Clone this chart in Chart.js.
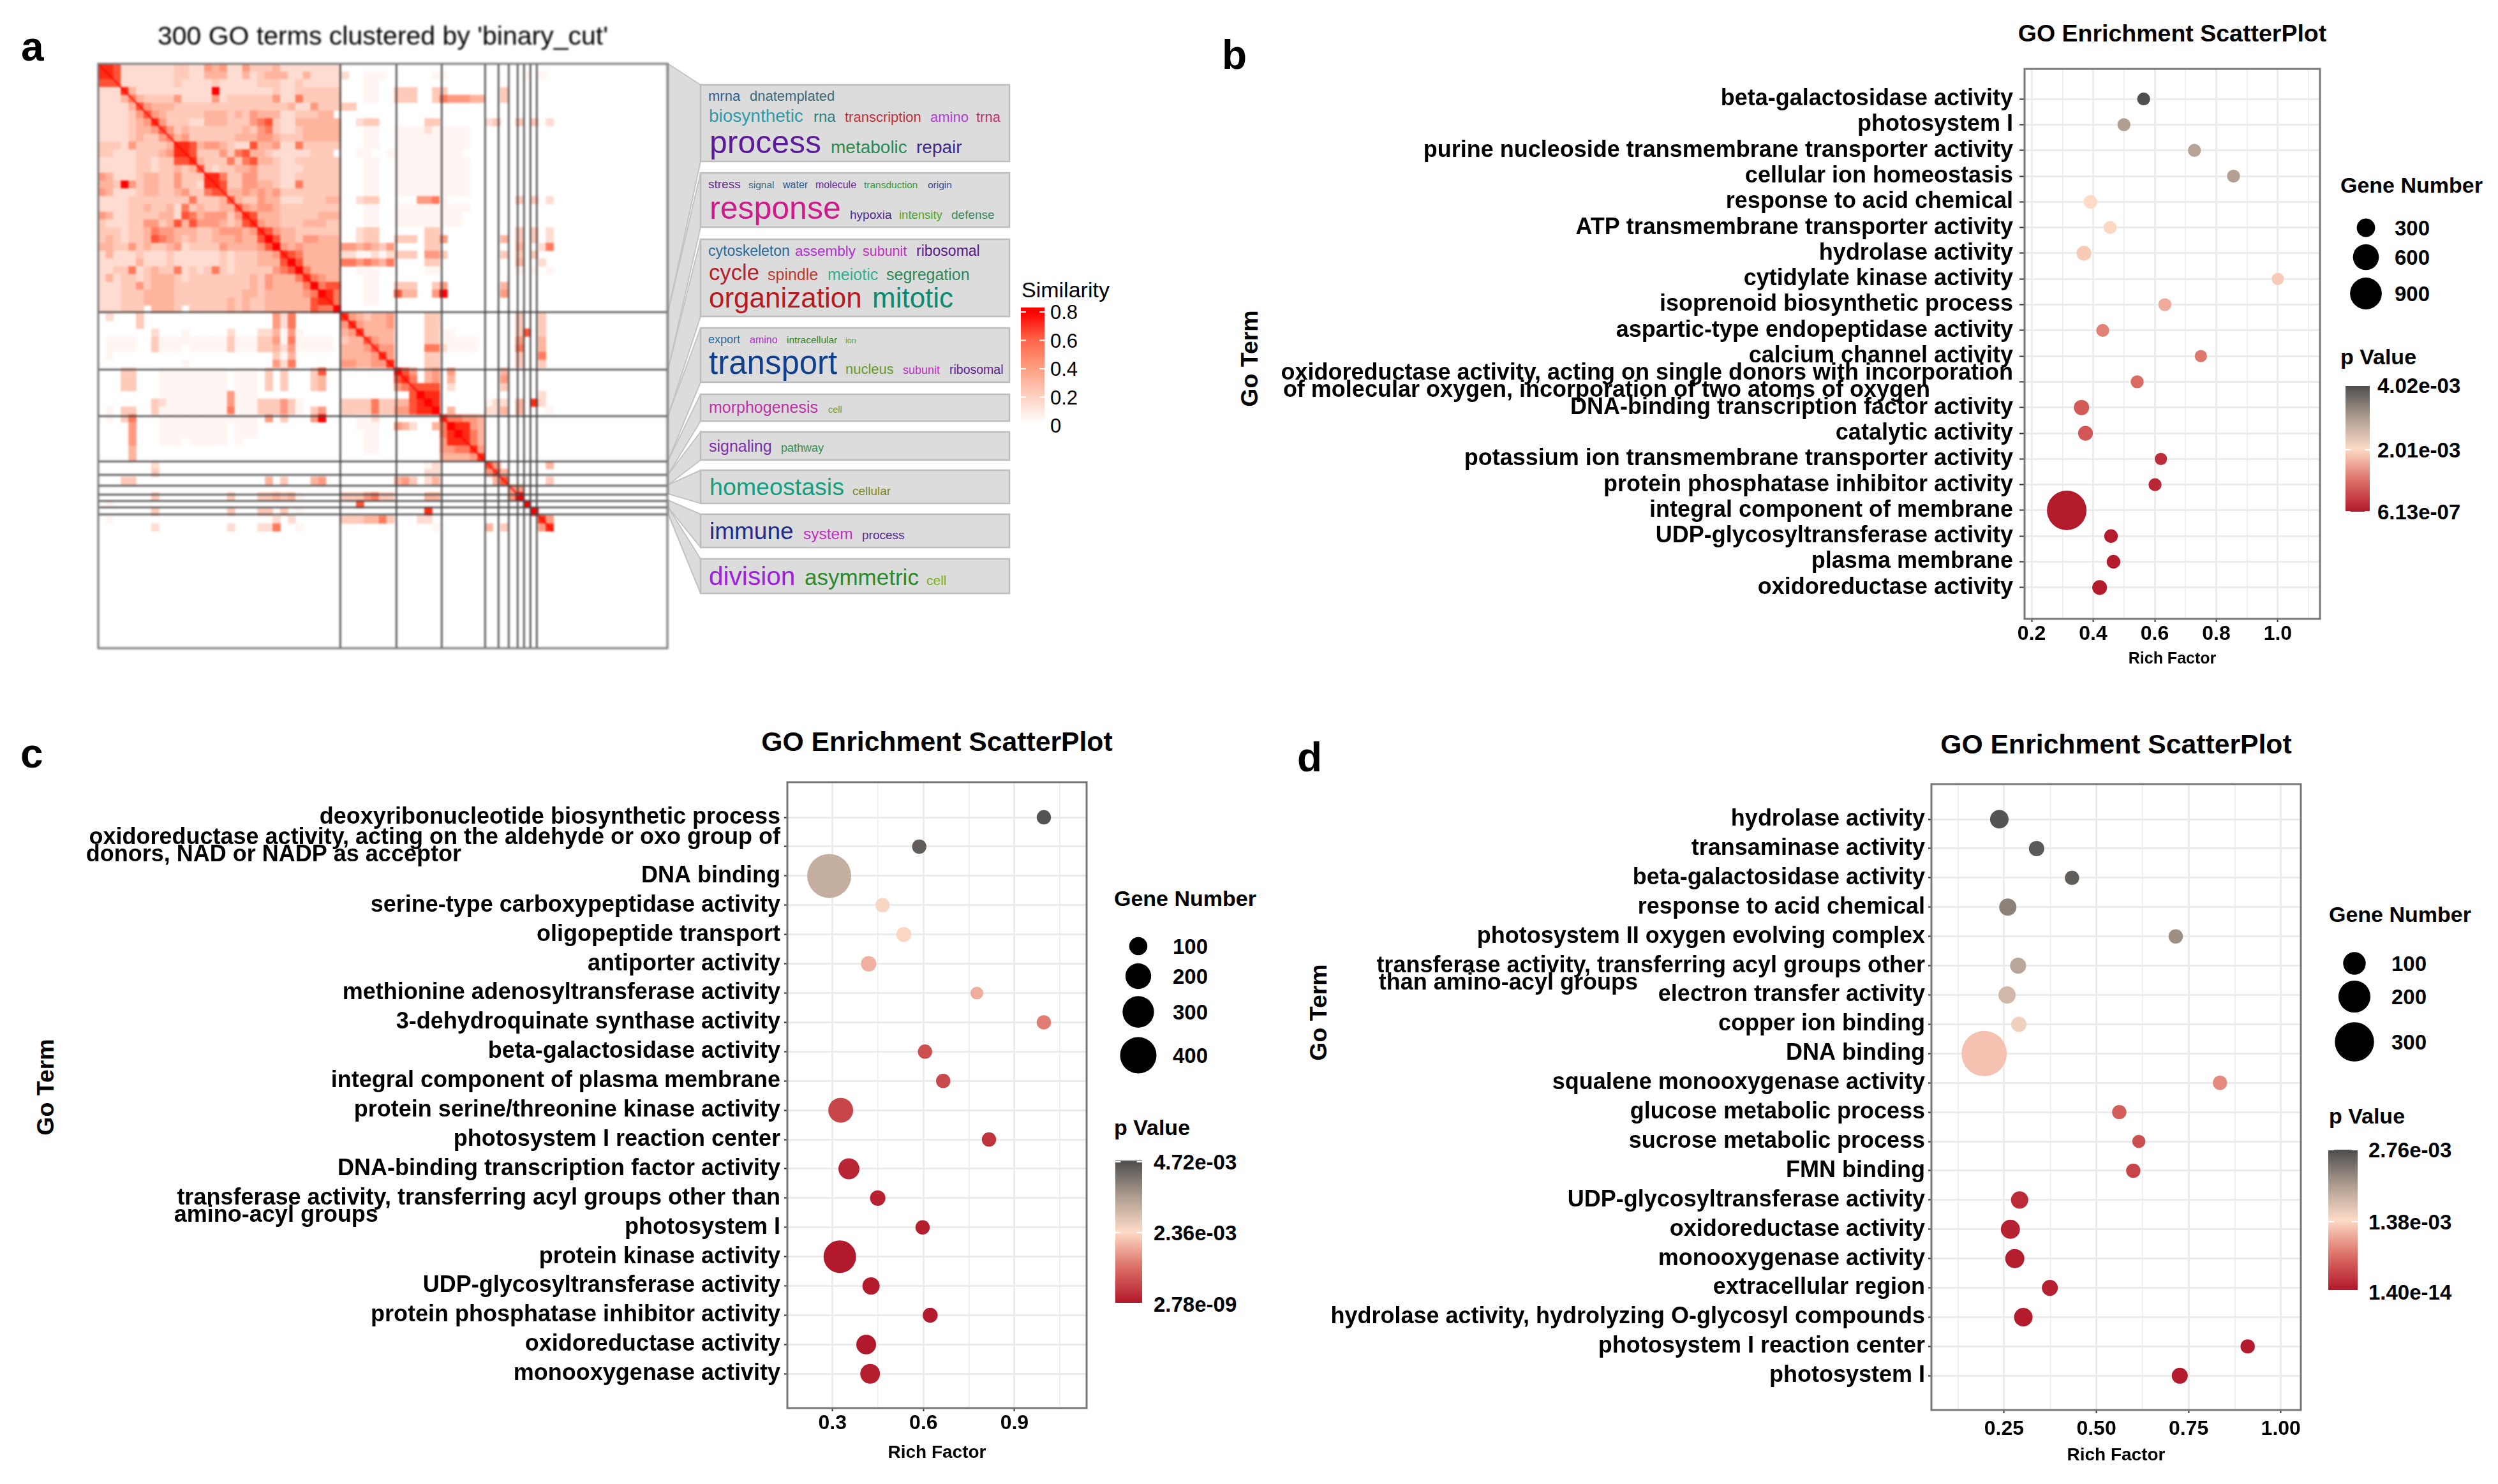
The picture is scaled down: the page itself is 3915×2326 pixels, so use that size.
<!DOCTYPE html>
<html>
<head>
<meta charset="utf-8">
<title>GO enrichment figure</title>
<script src="https://cdn.jsdelivr.net/npm/chart.js@4"></script>
<style>
  html, body { margin: 0; padding: 0; background: #fff; }
  #page { position: relative; width: 3915px; height: 2326px; overflow: hidden; }
  canvas { position: absolute; }
  #chart-a { filter: blur(1.5px); }
  #overlay { position: absolute; left: 0; top: 0; font-family: "Liberation Sans", Arial, sans-serif; }
</style>
</head>
<body>
<div id="page">
  <svg id="overlay" width="3915" height="2326" xmlns="http://www.w3.org/2000/svg"></svg>
  <canvas id="chart-a"></canvas>
  <canvas id="chart-b"></canvas>
  <canvas id="chart-c"></canvas>
  <canvas id="chart-d"></canvas>
</div>
<script>
// --- Panel a: similarity matrix, one digit per 4 terms, upper triangle from the diagonal ---
const clusterEdges = [127.6, 157, 181, 204, 211, 216.5, 221, 224.4, 227.8, 231.2];
const similarityLevels = [
  '887222222233225452253 33422222222 0000000 000000 000000 000 000000',
  '87222222233224442242 344422422222 0011100 000011 000000 000 010101',
  '7222222232222 3222223332232 2222 0001100 000000 000000 000 000000',
  '84222222222292222222322333333 0001100 333003 300000 003 000000',
  '6433335222252333333522633333 0001100 333003 655544 003 000000',
  '754443333333333333334 22533333 0000000 000000 000000 000 000000',
  '75433333444343544422333 44 0000000 000000 000000 000 000000',
  '8533322444333567322444444 0023300 000033 000000 230 030302',
  '753433333334356322344444 0001100 111121 111100 000 000000',
  '64533333344455433 344444 0001100 111111 111100 000 000000',
  '8874554322744522633333 0001100 111111 111100 000 000000',
  '8733353 67443 22222333 0001100 111111 111100 000 000000',
  '84333636744322333333 0001100 111111 111100 000 000000',
  '7323344533322233333 0001100 111111 111100 000 000000',
  '886335533322333333 0001100 111111 111100 000 000000',
  '87335544322633333 0001100 111111 111100 000 000000',
  '7445454533333333 0001100 111111 111100 000 000000',
  '743354422233344 0023300 000556 100000 000 030302',
  '75455433333333 0001100 111111 111100 000 000000',
  '8744433333444 0001100 111111 111000 000 000000',
  '854433344433 0001100 111111 111000 000 000000',
  '87544333333 0023300 000033 000000 000 030302',
  '9744355444 0023300 333033 500000 004 030302',
  '954544444 5545435 000033 000000 000 040026',
  '87644444 2211212 333055 300000 003 030300',
  '9744444 6656546 000033 000000 000 040020',
  '964444 0011100 000011 000000 000 010101',
  '86544 0001100 000000 000000 000 000000',
  '9677 0001100 333003 500000 004 000000',
  '986 0001100 744005 900000 005 000000',
  '86 0001100 000000 000000 000 000000',
  '9 0000000 000000 000000 000 000000',
  '8543445 000033 000000 000 030030',
  '854445 000033 000000 000 030030',
  '84444 000033 110000 000 037030',
  '7544 000033 111110 000 050040',
  '755 000066 211110 000 060040',
  '85 000033 000000 000 030060',
  '8 000033 000000 000 030030',
  '975045 050000 004 000000',
  '86045 040000 005 000000',
  '7777 020000 003 000000',
  '988 000000 000 000020',
  '98 000000 122 040820',
  '9 040000 224 040001',
  '866554 000 000000',
  '98854 000 000000',
  '9864 000 000000',
  '864 000 000000',
  '85 000 000000',
  '8 000 000000',
  '750 000004',
  '74 000000',
  '7 000003',
  '55 0000',
  '90000',
  '9000',
  '900',
  '85',
  '8'
];
const diagonalEnds = [0, 240];
const similarityTicks = [0.8, 0.6, 0.4, 0.2, 0];
const levelColors = ['#ffffff', '#fff6f3', '#ffdcd1', '#ffcab9', '#ffb49e', '#ff9a80', '#ff7a5c', '#ff5236', '#ff2a14', '#ff0000'];

// --- Panel b ---
const bTerms = [
  'beta-galactosidase activity', 'photosystem I', 'purine nucleoside transmembrane transporter activity',
  'cellular ion homeostasis', 'response to acid chemical', 'ATP transmembrane transporter activity',
  'hydrolase activity', 'cytidylate kinase activity', 'isoprenoid biosynthetic process',
  'aspartic-type endopeptidase activity', 'calcium channel activity',
  ['oxidoreductase activity, acting on single donors with incorporation', 'of molecular oxygen, incorporation of two atoms of oxygen'],
  'DNA-binding transcription factor activity', 'catalytic activity', 'potassium ion transmembrane transporter activity',
  'protein phosphatase inhibitor activity', 'integral component of membrane', 'UDP-glycosyltransferase activity',
  'plasma membrane', 'oxidoreductase activity'
];
const bRichFactor = [0.564, 0.5, 0.729, 0.856, 0.391, 0.455, 0.37, 1.0, 0.633, 0.431, 0.75, 0.543, 0.362, 0.375, 0.62, 0.601, 0.314, 0.458, 0.466, 0.421];
const bGeneNumber = [150, 150, 150, 150, 165, 150, 195, 135, 150, 150, 135, 150, 210, 195, 135, 150, 1395, 165, 165, 195];
const bPValue = [3.98e-3, 2.97e-3, 2.89e-3, 2.93e-3, 2.01e-3, 1.97e-3, 1.85e-3, 1.85e-3, 1.57e-3, 1.17e-3, 1.09e-3, 9.6e-4, 7.6e-4, 7.2e-4, 2.4e-4, 1.6e-4, 2e-5, 6e-5, 5e-5, 4e-5];
const bXTicks = [0.2, 0.4, 0.6, 0.8, 1.0];
const bXMinor = [0.3, 0.5, 0.7, 0.9, 1.1];
const bSizeLegend = [300, 600, 900];
const bPLegend = ['4.02e-03', '2.01e-03', '6.13e-07'];

// --- Panel c ---
const cTerms = [
  'deoxyribonucleotide biosynthetic process',
  ['oxidoreductase activity, acting on the aldehyde or oxo group of', 'donors, NAD or NADP as acceptor'],
  'DNA binding', 'serine-type carboxypeptidase activity', 'oligopeptide transport', 'antiporter activity',
  'methionine adenosyltransferase activity', '3-dehydroquinate synthase activity', 'beta-galactosidase activity',
  'integral component of plasma membrane', 'protein serine/threonine kinase activity', 'photosystem I reaction center',
  'DNA-binding transcription factor activity',
  ['transferase activity, transferring acyl groups other than', 'amino-acyl groups'],
  'photosystem I', 'protein kinase activity', 'UDP-glycosyltransferase activity', 'protein phosphatase inhibitor activity',
  'oxidoreductase activity', 'monooxygenase activity'
];
const cRichFactor = [0.997, 0.586, 0.289, 0.465, 0.535, 0.419, 0.776, 0.997, 0.605, 0.665, 0.327, 0.816, 0.354, 0.449, 0.597, 0.324, 0.427, 0.622, 0.411, 0.424];
const cGeneNumber = [62, 62, 586, 62, 68, 72, 50, 62, 62, 62, 187, 62, 134, 72, 62, 320, 90, 68, 118, 118];
const cPValue = [4.63e-3, 4.48e-3, 3.2e-3, 2.45e-3, 2.31e-3, 1.89e-3, 1.85e-3, 1.32e-3, 7.5e-4, 6.6e-4, 6.1e-4, 3.8e-4, 1.9e-4, 1.4e-4, 9e-5, 2e-5, 5e-5, 5e-5, 2e-5, 1e-4];
const cXTicks = [0.3, 0.6, 0.9];
const cXMinor = [0.45, 0.75, 1.05];
const cSizeLegend = [100, 200, 300, 400];
const cPLegend = ['4.72e-03', '2.36e-03', '2.78e-09'];

// --- Panel d ---
const dTerms = [
  'hydrolase activity', 'transaminase activity', 'beta-galactosidase activity', 'response to acid chemical',
  'photosystem II oxygen evolving complex',
  ['transferase activity, transferring acyl groups other', 'than amino-acyl groups'],
  'electron transfer activity', 'copper ion binding', 'DNA binding', 'squalene monooxygenase activity',
  'glucose metabolic process', 'sucrose metabolic process', 'FMN binding', 'UDP-glycosyltransferase activity',
  'oxidoreductase activity', 'monooxygenase activity', 'extracellular region',
  'hydrolase activity, hydrolyzing O-glycosyl compounds', 'photosystem I reaction center', 'photosystem I'
];
const dRichFactor = [0.237, 0.338, 0.434, 0.26, 0.715, 0.288, 0.258, 0.29, 0.196, 0.835, 0.562, 0.615, 0.6, 0.292, 0.267, 0.279, 0.374, 0.302, 0.91, 0.726];
const dGeneNumber = [67, 46, 40, 58, 40, 50, 58, 46, 400, 40, 40, 34, 40, 58, 71, 71, 50, 67, 40, 50];
const dPValue = [2.7e-3, 2.65e-3, 2.62e-3, 2.3e-3, 2.18e-3, 1.96e-3, 1.77e-3, 1.49e-3, 1.22e-3, 8.6e-4, 5.5e-4, 4.4e-4, 3.6e-4, 1.4e-4, 8e-5, 4e-5, 8e-5, 3e-5, 3e-5, 3e-5];
const dXTicks = [0.25, 0.5, 0.75, 1.0];
const dXMinor = [0.125, 0.375, 0.625, 0.875];
const dSizeLegend = [100, 200, 300];
const dPLegend = ['2.76e-03', '1.38e-03', '1.40e-14'];

// --- Layout (pixels of the 3915x2326 page) ---
// right side of each box leaves more room than the largest bubble radius, or Chart.js shrinks the plot
const PANELS = {
  b: {
    terms: bTerms, rich: bRichFactor, genes: bGeneNumber, pvals: bPValue, xTicks: bXTicks, xMinor: bXMinor, digits: 1,
    box: [1980, 20, 3680, 1048], plot: [3173, 108, 3636, 970], titleY: 52, titleSize: 37.5, axisTitleSize: 25,
    xRange: [0.177, 1.137], yRange: [-1.17, 20.22], sizeK: 1.66, xPad: 0, tickLen: 8, tickPad: 10, lowWrapped: [],
    goTerm: [1958, 562], legendX: 3668, geneY: 290, circleX: 3708, labelX: 3753,
    sizes: bSizeLegend, sizeY: [357, 403, 460], pLabels: bPLegend, pTitleY: 559,
    bar: [3676, 605, 38, 197], pLabelX: 3726, pLabelY: [604, 705, 802]
  },
  c: {
    terms: cTerms, rich: cRichFactor, genes: cGeneNumber, pvals: cPValue, xTicks: cXTicks, xMinor: cXMinor, digits: 1,
    box: [100, 1130, 1745, 2294], plot: [1234, 1226, 1703, 2207], titleY: 1162, titleSize: 42.7, axisTitleSize: 28,
    xRange: [0.151, 1.138], yRange: [-1.2, 20.17], sizeK: 2.85, xPad: 0, tickLen: 5, tickPad: 6, lowWrapped: [13],
    goTerm: [71, 1704], legendX: 1746, geneY: 1408, circleX: 1784, labelX: 1838,
    sizes: cSizeLegend, sizeY: [1483, 1530, 1586, 1654], pLabels: cPLegend, pTitleY: 1767,
    bar: [1748, 1819, 42, 223], pLabelX: 1808, pLabelY: [1821, 1932, 2044]
  },
  d: {
    terms: dTerms, rich: dRichFactor, genes: dGeneNumber, pvals: dPValue, xTicks: dXTicks, xMinor: dXMinor, digits: 2,
    box: [2060, 1130, 3650, 2298], plot: [3027, 1229, 3606, 2210], titleY: 1166, titleSize: 42.7, axisTitleSize: 28,
    xRange: [0.053, 1.054], yRange: [-1.2, 20.17], sizeK: 3.55, xPad: 6, tickLen: 5, tickPad: 5, lowWrapped: [5],
    goTerm: [2066, 1587], legendX: 3650, geneY: 1433, circleX: 3690, labelX: 3748,
    sizes: dSizeLegend, sizeY: [1510, 1562, 1633], pLabels: dPLegend, pTitleY: 1749,
    bar: [3649, 1802, 46, 220], pLabelX: 3712, pLabelY: [1802, 1915, 2025]
  }
};

const FONT = '"Liberation Sans", Arial, sans-serif';
const TERM_SIZE = 36;
Chart.defaults.font.family = FONT;
Chart.defaults.color = '#000';
Chart.defaults.animation = false;

// p value colour bar, low to high
const P_STOPS = [[0, '#b2182b'], [0.25, '#dc7066'], [0.5, '#fddbc7'], [0.75, '#ad9c8f'], [1, '#4d4d4d']];

function hexToRgb(hex) {
  return [1, 3, 5].map(i => parseInt(hex.slice(i, i + 2), 16));
}

function pColor(p, pMax) {
  const t = Math.min(1, p / pMax);
  for (let i = 1; i < P_STOPS.length; i++) {
    if (t <= P_STOPS[i][0]) {
      const [t0, c0] = P_STOPS[i - 1];
      const [t1, c1] = P_STOPS[i];
      const f = (t - t0) / (t1 - t0);
      const a = hexToRgb(c0), b = hexToRgb(c1);
      return `rgb(${a.map((v, k) => Math.round(v + (b[k] - v) * f)).join(',')})`;
    }
  }
  return P_STOPS[P_STOPS.length - 1][1];
}

// second line of a wrapped term keeps the left edge of the first line
const measureCtx = document.createElement('canvas').getContext('2d');
function padWrapped(lines, sitLow) {
  measureCtx.font = `bold ${TERM_SIZE}px ${FONT}`;
  const spaceW = measureCtx.measureText(' ').width;
  const gap = measureCtx.measureText(lines[0]).width - measureCtx.measureText(lines[1]).width;
  const padded = [lines[0], lines[1] + ' '.repeat(Math.round(gap / spaceW))];
  // an empty first line moves the block down by half a line
  return sitLow ? [''].concat(padded) : padded;
}

function sizeCanvas(id, box) {
  const canvas = document.getElementById(id);
  canvas.width = box[2] - box[0];
  canvas.height = box[3] - box[1];
  canvas.style.left = box[0] + 'px';
  canvas.style.top = box[1] + 'px';
  canvas.style.width = canvas.width + 'px';
  canvas.style.height = canvas.height + 'px';
  return canvas;
}

const plotFrame = {
  id: 'plotFrame',
  afterDraw(chart) {
    const { ctx, chartArea: a } = chart;
    ctx.save();
    ctx.strokeStyle = '#777';
    ctx.lineWidth = 3;
    ctx.strokeRect(a.left, a.top, a.right - a.left, a.bottom - a.top);
    ctx.restore();
  }
};

function noMargins(s) {
  s.paddingLeft = 0;
  s.paddingRight = 0;
  s.paddingTop = 0;
  s.paddingBottom = 0;
}

// --- Bubble panels ---
function drawEnrichment(key) {
  const cfg = PANELS[key];
  const [left, top, right, bottom] = cfg.box;
  const [plotLeft, plotTop, plotRight, plotBottom] = cfg.plot;
  const canvas = sizeCanvas('chart-' + key, cfg.box);
  const pMax = parseFloat(cfg.pLabels[0]);

  const points = cfg.terms.map((term, i) => ({
    x: cfg.rich[i],
    y: i,
    r: cfg.sizeK * Math.sqrt(cfg.genes[i]) / 2
  }));

  new Chart(canvas, {
    type: 'bubble',
    data: {
      datasets: [{
        data: points,
        backgroundColor: cfg.pvals.map(p => pColor(p, pMax)),
        borderWidth: 0
      }]
    },
    options: {
      responsive: false,
      devicePixelRatio: 1,
      layout: { padding: { left: 0, right: right - plotRight, top: plotTop - top, bottom: 0 } },
      plugins: {
        legend: { display: false },
        tooltip: { enabled: false }
      },
      scales: {
        x: {
          type: 'linear',
          min: cfg.xRange[0],
          max: cfg.xRange[1],
          afterBuildTicks: s => {
            s.ticks = cfg.xTicks.concat(cfg.xMinor).sort((a, b) => a - b).map(value => ({ value }));
          },
          afterFit: s => { s.height = bottom - plotBottom; noMargins(s); },
          grid: {
            color: '#ececec',
            lineWidth: c => (cfg.xTicks.includes(c.tick.value) ? 3 : 1.5),
            tickColor: c => (cfg.xTicks.includes(c.tick.value) ? '#333' : 'rgba(0,0,0,0)'),
            tickWidth: 2,
            tickLength: 5
          },
          border: { display: false },
          ticks: {
            autoSkip: false,
            maxRotation: 0,
            padding: cfg.xPad,
            font: { size: 32, weight: 'bold' },
            color: '#000',
            callback: v => (cfg.xTicks.includes(v) ? v.toFixed(cfg.digits) : '')
          },
          title: {
            display: true,
            text: 'Rich Factor',
            padding: 0,
            color: '#000',
            font: { size: cfg.axisTitleSize, weight: 'bold', lineHeight: 1.2 }
          }
        },
        y: {
          type: 'linear',
          reverse: true,
          min: cfg.yRange[0],
          max: cfg.yRange[1],
          afterBuildTicks: s => { s.ticks = cfg.terms.map((t, i) => ({ value: i })); },
          afterFit: s => { s.width = plotLeft - left; noMargins(s); },
          grid: { color: '#ececec', lineWidth: 3, tickColor: '#333', tickWidth: 2, tickLength: cfg.tickLen },
          border: { display: false },
          ticks: {
            autoSkip: false,
            padding: cfg.tickPad,
            font: { size: TERM_SIZE, weight: 'bold', lineHeight: 0.75 },
            color: '#000',
            callback: v => {
              const term = cfg.terms[v];
              return Array.isArray(term) ? padWrapped(term, cfg.lowWrapped.includes(v)) : term;
            }
          }
        }
      }
    },
    plugins: [plotFrame]
  });
}

// --- Matrix panel ---
function drawMatrix() {
  const box = [136, 28, 1064, 1034];
  const plot = [154, 100, 1046, 1016];
  const canvas = sizeCanvas('chart-a', box);
  const cells = [];
  similarityLevels.forEach((row, r) => {
    const digits = row.replace(/ /g, '');
    for (let k = 0; k < digits.length && r + k < 60; k++) {
      const level = Number(digits[k]);
      if (level === 0) continue;
      cells.push({ x: (r + k) * 4 + 2, y: r * 4 + 2, level });
      if (k > 0) cells.push({ x: r * 4 + 2, y: (r + k) * 4 + 2, level });
    }
  });
  const edgeAxis = {
    type: 'linear',
    min: 0,
    max: 300,
    afterBuildTicks: s => { s.ticks = clusterEdges.map(value => ({ value })); },
    grid: { color: '#444', lineWidth: 2.5, z: 1, drawTicks: false },
    border: { display: false },
    ticks: { display: false }
  };
  new Chart(canvas, {
    type: 'scatter',
    data: {
      datasets: [
        {
          data: cells,
          pointStyle: 'rect',
          pointRadius: 9,
          pointBorderWidth: 0,
          pointBackgroundColor: c => levelColors[c.raw.level],
          order: 2
        },
        {
          data: diagonalEnds.map(v => ({ x: v, y: v })),
          showLine: true,
          borderColor: 'rgba(255,0,0,0.8)',
          borderWidth: 2.5,
          pointRadius: 0,
          order: 1
        }
      ]
    },
    options: {
      responsive: false,
      devicePixelRatio: 1,
      layout: { padding: { left: plot[0] - box[0], right: box[2] - plot[2], top: 0, bottom: box[3] - plot[3] } },
      plugins: {
        legend: { display: false },
        tooltip: { enabled: false },
        title: {
          display: true,
          text: "300 GO terms clustered by 'binary_cut'",
          fullSize: false,
          color: '#000',
          font: { size: 41, weight: 'normal', lineHeight: 1.2 },
          padding: { top: 6.4, bottom: 16.4 }
        }
      },
      scales: {
        x: Object.assign({}, edgeAxis, { afterFit: s => { s.height = 0; noMargins(s); } }),
        y: Object.assign({}, edgeAxis, { reverse: true, afterFit: s => { s.width = 0; noMargins(s); } })
      }
    },
    plugins: [plotFrame]
  });
}

// --- Overlay: word cloud, legends, panel letters ---
const svg = document.getElementById('overlay');
function el(tag, attrs, text) {
  const node = document.createElementNS('http://www.w3.org/2000/svg', tag);
  Object.keys(attrs).forEach(k => node.setAttribute(k, attrs[k]));
  if (text !== undefined) node.textContent = text;
  svg.appendChild(node);
  return node;
}
function label(x, y, text, size, extra) {
  return el('text', Object.assign({ x, y, 'font-size': size, fill: '#000' }, extra || {}), text);
}

// cluster band on the matrix edge -> word cloud box
const wordBoxes = [
  { band: [100, 489], y: [133, 253], words: [
    ['mrna', 1110, 158, 22, '#2f5f8f'], ['dnatemplated', 1175, 158, 22, '#3d6a7a'],
    ['biosynthetic', 1111, 191, 28, '#2f9aa8'], ['rna', 1275, 191, 24, '#2a7f80'], ['transcription', 1324, 191, 22, '#c0303a'],
    ['amino', 1458, 191, 22, '#b040d8'], ['trna', 1530, 191, 22, '#c0306a'],
    ['process', 1112, 240, 50, '#5c1a9c'], ['metabolic', 1302, 240, 28, '#2a8a50'], ['repair', 1436, 240, 28, '#3a2a90']
  ] },
  { band: [489, 579], y: [271, 356], words: [
    ['stress', 1110, 295, 19, '#6a2a90'], ['signal', 1173, 295, 15.5, '#3a6a7a'], ['water', 1227, 295, 16, '#2a5a90'],
    ['molecule', 1278, 295, 16, '#6a2a90'], ['transduction', 1354, 295, 15.5, '#3a9a3a'], ['origin', 1454, 295, 15.5, '#3a4a9a'],
    ['response', 1112, 343, 50, '#d01a8a'], ['hypoxia', 1332, 343, 19, '#4a2a90'], ['intensity', 1409, 343, 18.5, '#4aa52a'], ['defense', 1491, 343, 19, '#3a8a5a']
  ] },
  { band: [579, 652], y: [375, 496], words: [
    ['cytoskeleton', 1110, 401, 23, '#2a6a9a'], ['assembly', 1246, 401, 22.5, '#b030d0'], ['subunit', 1352, 401, 21.5, '#c030c0'], ['ribosomal', 1436, 401, 23, '#5a1a8a'],
    ['cycle', 1111, 439, 34.7, '#b8202a'], ['spindle', 1203, 439, 25, '#c03a30'], ['meiotic', 1297, 439, 25, '#30b090'], ['segregation', 1389, 439, 25, '#2a8a5a'],
    ['organization', 1111, 482, 44, '#b81820'], ['mitotic', 1367, 482, 44, '#0a8a70']
  ] },
  { band: [652, 722], y: [514, 599], words: [
    ['export', 1110, 538, 18, '#2a6a9a'], ['amino', 1175, 538, 16, '#b030d0'], ['intracellular', 1233, 538, 15.5, '#2a8a2a'], ['ion', 1325, 538, 12.5, '#5aa52a'],
    ['transport', 1111, 586, 51, '#0f3f8f'], ['nucleus', 1325, 586, 22, '#6a9a2a'], ['subunit', 1415, 586, 18, '#c030c0'], ['ribosomal', 1488, 586, 19.5, '#5a1a8a']
  ] },
  { band: [722, 744], y: [618, 660], words: [['morphogenesis', 1111, 647, 25, '#c030a8'], ['cell', 1298, 647, 14.5, '#7a9a30']] },
  { band: [744, 760], y: [677, 721], words: [['signaling', 1111, 708, 25, '#7a30a8'], ['pathway', 1224, 708, 18, '#3a8a4a']] },
  { band: [760, 774], y: [737, 789], words: [['homeostasis', 1112, 776, 37.6, '#10a080'], ['cellular', 1336, 776, 19, '#7a8a20']] },
  { band: [784, 795], y: [806, 858], words: [['immune', 1112, 845, 37, '#1a2a90'], ['system', 1259, 845, 24.5, '#c030c0'], ['process', 1351, 845, 19, '#5a2a90']] },
  { band: [795, 805], y: [876, 930], words: [['division', 1111, 917, 40.6, '#a020e0'], ['asymmetric', 1261, 917, 35, '#2a8a2a'], ['cell', 1452, 917, 21, '#7ab020']] }
];

wordBoxes.forEach(box => {
  el('polygon', {
    points: `1047,${box.band[0]} 1098,${box.y[0]} 1098,${box.y[1]} 1047,${box.band[1]}`,
    fill: '#dcdcdc', stroke: '#c4c4c4', 'stroke-width': 2
  });
  el('rect', {
    x: 1098, y: box.y[0], width: 484, height: box.y[1] - box.y[0],
    fill: '#dcdcdc', stroke: '#bdbdbd', 'stroke-width': 2.5
  });
  box.words.forEach(([word, x, y, size, color]) => label(x, y, word, size, { fill: color }));
});

// similarity legend
const simGrad = el('linearGradient', { id: 'simGrad', x1: 0, y1: 0, x2: 0, y2: 1 });
[[0, '#ff0000'], [0.04, '#ff0000'], [0.27, '#ff6347'], [0.52, '#ff9e81'], [0.76, '#ffcfc0'], [1, '#ffffff']].forEach(([o, c]) => {
  const stop = document.createElementNS('http://www.w3.org/2000/svg', 'stop');
  stop.setAttribute('offset', o);
  stop.setAttribute('stop-color', c);
  simGrad.appendChild(stop);
});
label(1601, 466, 'Similarity', 34);
el('rect', { x: 1600, y: 482, width: 37, height: 182, fill: 'url(#simGrad)' });
similarityTicks.forEach((v, i) => {
  const y = 489 + i * 44.5;
  label(1646, y + 11, String(v), 31);
  if (i < 4) {
    el('rect', { x: 1600, y: y - 1, width: 8, height: 2, fill: '#fff' });
    el('rect', { x: 1629, y: y - 1, width: 8, height: 2, fill: '#fff' });
  }
});

// titles, gene number / p value legends and Go Term labels of the bubble panels
Object.keys(PANELS).forEach(key => {
  const cfg = PANELS[key];
  label((cfg.plot[0] + cfg.plot[2]) / 2, cfg.titleY + cfg.titleSize * 0.35, 'GO Enrichment ScatterPlot', cfg.titleSize, {
    'font-weight': 'bold', 'text-anchor': 'middle'
  });
  label(cfg.goTerm[0], cfg.goTerm[1], 'Go Term', 37.5, {
    'font-weight': 'bold', 'text-anchor': 'middle', 'dominant-baseline': 'central',
    transform: `rotate(-90 ${cfg.goTerm[0]} ${cfg.goTerm[1]})`
  });
  label(cfg.legendX, cfg.geneY + 12, 'Gene Number', 34, { 'font-weight': 'bold' });
  cfg.sizes.forEach((n, i) => {
    el('circle', { cx: cfg.circleX, cy: cfg.sizeY[i], r: cfg.sizeK * Math.sqrt(n) / 2, fill: '#000' });
    label(cfg.labelX, cfg.sizeY[i] + 12, String(n), 33, { 'font-weight': 'bold' });
  });
  label(cfg.legendX, cfg.pTitleY + 12, 'p Value', 34, { 'font-weight': 'bold' });
  const gradId = 'pGrad' + key;
  const grad = el('linearGradient', { id: gradId, x1: 0, y1: 1, x2: 0, y2: 0 });
  P_STOPS.forEach(([o, c]) => {
    const stop = document.createElementNS('http://www.w3.org/2000/svg', 'stop');
    stop.setAttribute('offset', o);
    stop.setAttribute('stop-color', c);
    grad.appendChild(stop);
  });
  const [bx, by, bw, bh] = cfg.bar;
  el('rect', { x: bx, y: by, width: bw, height: bh, fill: `url(#${gradId})` });
  cfg.pLabels.forEach((text, i) => {
    label(cfg.pLabelX, cfg.pLabelY[i] + 12, text, 33, { 'font-weight': 'bold' });
    el('rect', { x: bx, y: cfg.pLabelY[i] - 1, width: bw / 5, height: 2, fill: '#fff' });
    el('rect', { x: bx + bw * 0.8, y: cfg.pLabelY[i] - 1, width: bw / 5, height: 2, fill: '#fff' });
  });
});

// panel letters
[['a', 33, 95], ['b', 1915, 108], ['c', 32, 1203], ['d', 2033, 1209]].forEach(([letter, x, y]) => {
  label(x, y, letter, 64, { 'font-weight': 'bold' });
});

drawMatrix();
drawEnrichment('b');
drawEnrichment('c');
drawEnrichment('d');
</script>
</body>
</html>
